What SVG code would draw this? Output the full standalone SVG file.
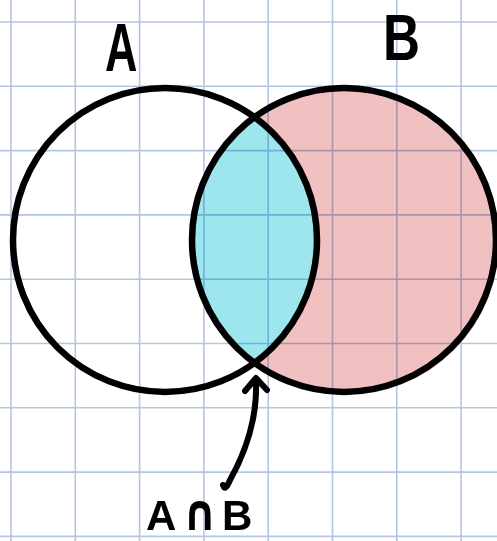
<svg xmlns="http://www.w3.org/2000/svg" width="497" height="541" viewBox="0 0 497 541">
<style>
.grid line{stroke:#b4c5e2;stroke-width:1.6}
.ring{fill:none;stroke:#000;stroke-width:6.5}
.lbl{font-family:"Liberation Sans","DejaVu Sans",sans-serif;font-weight:bold;fill:#000}
.sym{font-family:"DejaVu Sans",sans-serif;font-weight:bold;fill:#000}
.arrow{fill:none;stroke:#000;stroke-width:6;stroke-linecap:round;stroke-linejoin:round}
</style>
<defs>
<clipPath id="clipA"><circle cx="165" cy="240" r="152"/></clipPath>
</defs>
<rect width="497" height="541" fill="#fff"/>
<g id="fills">
<circle cx="346" cy="242" r="153" fill="#f1c0c1"/>
<circle cx="344" cy="240" r="152" fill="#9de6ee" clip-path="url(#clipA)"/>
</g>
<g class="grid" style="mix-blend-mode:multiply">
<line x1="11" y1="0" x2="11" y2="541"/>
<line x1="75.3" y1="0" x2="75.3" y2="541"/>
<line x1="139.6" y1="0" x2="139.6" y2="541"/>
<line x1="203.9" y1="0" x2="203.9" y2="541"/>
<line x1="268.2" y1="0" x2="268.2" y2="541"/>
<line x1="332.5" y1="0" x2="332.5" y2="541"/>
<line x1="396.8" y1="0" x2="396.8" y2="541"/>
<line x1="461.1" y1="0" x2="461.1" y2="541"/>
<line x1="0" y1="22" x2="497" y2="22"/>
<line x1="0" y1="86.3" x2="497" y2="86.3"/>
<line x1="0" y1="150.6" x2="497" y2="150.6"/>
<line x1="0" y1="214.9" x2="497" y2="214.9"/>
<line x1="0" y1="279.2" x2="497" y2="279.2"/>
<line x1="0" y1="343.5" x2="497" y2="343.5"/>
<line x1="0" y1="407.8" x2="497" y2="407.8"/>
<line x1="0" y1="472.1" x2="497" y2="472.1"/>
<line x1="0" y1="536.4" x2="497" y2="536.4"/>
</g>
<g id="setA">
<circle class="ring" cx="165" cy="240" r="152"/>
<text class="lbl" transform="translate(105,71) scale(0.66,1)" font-size="68">A</text>
</g>
<g id="setB">
<circle class="ring" cx="344" cy="240" r="152"/>
<text class="lbl" transform="translate(383,60) scale(0.8,1)" font-size="64">B</text>
</g>
<g id="connectors">
<path class="arrow" d="M223,485 Q225,492 230,480 Q258,430 256,380"/>
<path class="arrow" d="M245,391 L256,378 L267,390"/>
</g>
<g id="intersection-label">
<text class="lbl" x="146" y="530" font-size="42">A</text>
<text class="sym" transform="translate(183,530) scale(1.05,1.25)" font-size="40">∩</text>
<text class="lbl" x="222" y="530" font-size="42">B</text>
</g>
</svg>
